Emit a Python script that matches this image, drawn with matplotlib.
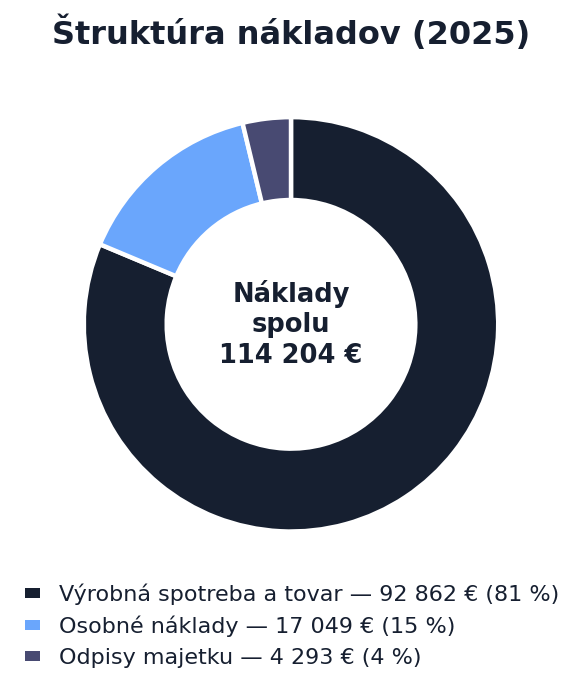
import matplotlib
matplotlib.use("Agg")
import matplotlib.pyplot as plt
from matplotlib.patches import Patch

# data
categories = ["Výrobná spotreba a tovar", "Osobné náklady", "Odpisy majetku"]
values = [92862, 17049, 4293]
colors = ["#161f30", "#6aa6fc", "#484a72"]
TEXT = "#161f30"


def fmt_eur(v):
    return f"{v:,}".replace(",", " ") + " €"


def main():
    total = sum(values)
    fig = plt.figure(figsize=(5.82, 6.93), dpi=100)
    ax = fig.add_axes([0.144, 0.233, 0.712, 0.598])

    ax.pie(values, colors=colors, startangle=90, counterclock=False, radius=1.0,
           wedgeprops=dict(width=0.4, edgecolor="white", linewidth=3.2))
    ax.set_xlim(-1, 1)
    ax.set_ylim(-1, 1)
    ax.set_aspect("equal")
    ax.axis("off")

    ax.text(0, 0, f"Náklady\nspolu\n{fmt_eur(total)}", ha="center", va="center",
            fontsize=18.5, fontweight="bold", color=TEXT, linespacing=1.22)

    fig.text(0.5, 0.952, "Štruktúra nákladov (2025)", ha="center", va="center",
             fontsize=23, fontweight="bold", color=TEXT)

    labels = []
    for c, v in zip(categories, values):
        labels.append(f"{c} — {fmt_eur(v)} ({round(v / total * 100):.0f} %)")
    handles = [Patch(facecolor=col, edgecolor="none") for col in colors]
    fig.legend(handles, labels, loc="upper left", bbox_to_anchor=(0.043, 0.158),
               frameon=False, fontsize=16, labelcolor=TEXT,
               handlelength=0.68, handleheight=0.3, handletextpad=0.86,
               labelspacing=0.48, borderaxespad=0, borderpad=0)

    fig.savefig("out.png", dpi=100, facecolor="white")


if __name__ == "__main__":
    main()
